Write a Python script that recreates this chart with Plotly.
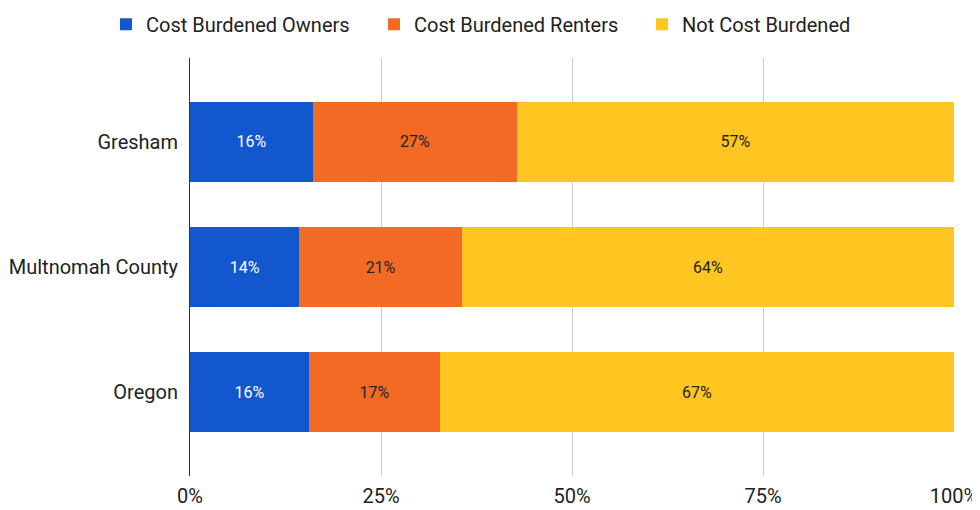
import plotly.graph_objects as go

# share of households, percent
places = ['Gresham', 'Multnomah County', 'Oregon']
owners = [16.1, 14.3, 15.6]
renters = [26.7, 21.3, 17.1]
not_burdened = [57.2, 64.4, 67.3]

series = [
    ('Cost Burdened Owners', owners, '#1257ce', 'white'),
    ('Cost Burdened Renters', renters, '#f26a24', '#222222'),
    ('Not Cost Burdened', not_burdened, '#ffc520', '#222222'),
]

fig = go.Figure()
for name, vals, color, txt_color in series:
    fig.add_trace(go.Bar(
        y=places, x=vals, name=name, orientation='h',
        marker=dict(color=color, line_width=0),
        texttemplate='%{x:.0f}%', textposition='inside',
        insidetextanchor='middle',
        textfont=dict(family='Roboto', size=16, color=txt_color),
    ))

# page body has an 8px margin, so the figure is a bit smaller than the window
fig.update_layout(
    barmode='stack',
    bargap=0.36,
    width=972, height=502,
    margin=dict(l=182, r=26, t=50, b=34, autoexpand=False),
    plot_bgcolor='white', paper_bgcolor='white',
    font=dict(family='Roboto', size=20, color='#222222'),
    showlegend=True,
    legend=dict(
        orientation='h', x=-0.11, xanchor='left', y=1.081, yanchor='middle',
        font=dict(size=20, color='#222222'), traceorder='normal',
        entrywidth=223,
    ),
    uniformtext=dict(mode='show', minsize=10),
)

fig.update_xaxes(
    range=[0, 100], tickvals=[0, 25, 50, 75, 100],
    ticktext=['0%', '25%', '50%', '75%', '100%'],
    showgrid=True, gridcolor='#cccccc', gridwidth=1,
    zeroline=False, ticks='', ticklabelstandoff=6,
    tickfont=dict(size=20), automargin=False,
)
fig.update_yaxes(
    type='category', range=[2.67, -0.67],
    showline=True, linecolor='#333333', linewidth=1,
    showgrid=False, ticks='', ticklabelstandoff=7,
    tickfont=dict(size=20), automargin=False,
)

fig.write_html("out.html")
